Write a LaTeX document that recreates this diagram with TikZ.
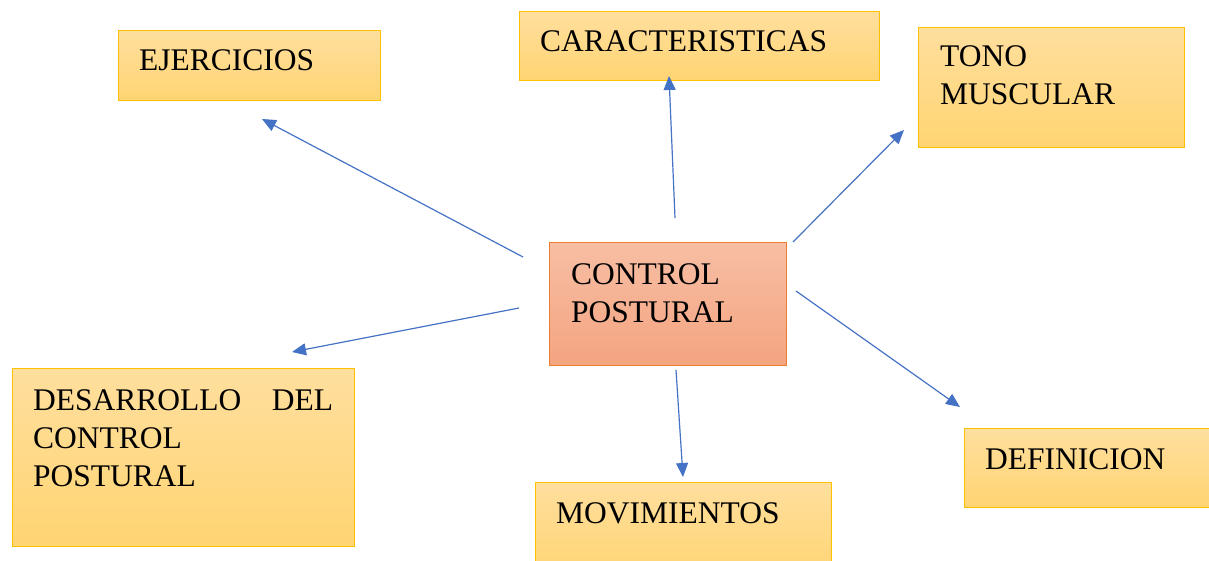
\documentclass[tikz,border=0pt]{standalone}
\usepackage{fontspec}
\setmainfont{Liberation Serif}
\usetikzlibrary{arrows.meta}
\definecolor{goldtop}{RGB}{255,223,158}
\definecolor{goldbot}{RGB}{255,212,114}
\definecolor{goldline}{RGB}{255,192,0}
\definecolor{saltop}{RGB}{247,190,164}
\definecolor{salbot}{RGB}{244,164,128}
\definecolor{salline}{RGB}{237,125,49}
\definecolor{arrowblue}{RGB}{68,114,196}
\tikzset{
  goldbox/.style={draw=goldline, line width=1.2pt, top color=goldtop, bottom color=goldbot, anchor=north west, inner sep=0pt},
  centerbox/.style={draw=salline, line width=1.2pt, top color=saltop, bottom color=salbot, anchor=north west, inner sep=0pt},
  label/.style={anchor=base west, inner sep=0pt, font=\fontsize{31.5}{38}\selectfont},
  link/.style={draw=arrowblue, line width=1.2pt, -{Triangle[length=14pt,width=12pt]}}
}
\begin{document}
\begin{tikzpicture}[x=1pt,y=-1pt]
\useasboundingbox (0,0) rectangle (1209,561);
% boxes
\node[goldbox, minimum width=262, minimum height=70] (ej) at (118,30) {};
\node[goldbox, minimum width=360, minimum height=69] (car) at (519,11) {};
\node[goldbox, minimum width=266, minimum height=120] (tono) at (918,27) {};
\node[centerbox, minimum width=237, minimum height=123] (cp) at (549,242) {};
\node[goldbox, minimum width=342, minimum height=178] (des) at (12,368) {};
\node[goldbox, minimum width=296, minimum height=95] (mov) at (535,482) {};
\node[goldbox, minimum width=255, minimum height=79] (def) at (964,428) {};
% labels
\node[label] (ejt) at (139,71) {EJERCICIOS};
\node[label] (cart) at (540,52) {CARACTERISTICAS};
\node[label] (tonot) at (940,67) {\vtop{\hbox{TONO}\hbox{MUSCULAR}}};
\node[label] (cpt) at (571,284) {\vtop{\hbox{CONTROL}\hbox{POSTURAL}}};
\node[label] (dest) at (33,410) {\vtop{\hbox to 300pt{DESARROLLO\hfill DEL}\hbox{CONTROL}\hbox{POSTURAL}}};
\node[label] (movt) at (556,523) {MOVIMIENTOS};
\node[label] (deft) at (985,469) {DEFINICION};
% arrow end points
\coordinate (s1) at (523,257); \coordinate (e1) at (262,119);
\coordinate (s2) at (675,218); \coordinate (e2) at (669,76);
\coordinate (s3) at (793,242); \coordinate (e3) at (904,130);
\coordinate (s4) at (796,291); \coordinate (e4) at (960,407);
\coordinate (s5) at (676,370); \coordinate (e5) at (683,477);
\coordinate (s6) at (519,308); \coordinate (e6) at (292,352);
\draw[link] (s1) -- (e1);
\draw[link] (s2) -- (e2);
\draw[link] (s3) -- (e3);
\draw[link] (s4) -- (e4);
\draw[link] (s5) -- (e5);
\draw[link] (s6) -- (e6);
\end{tikzpicture}
\end{document}
